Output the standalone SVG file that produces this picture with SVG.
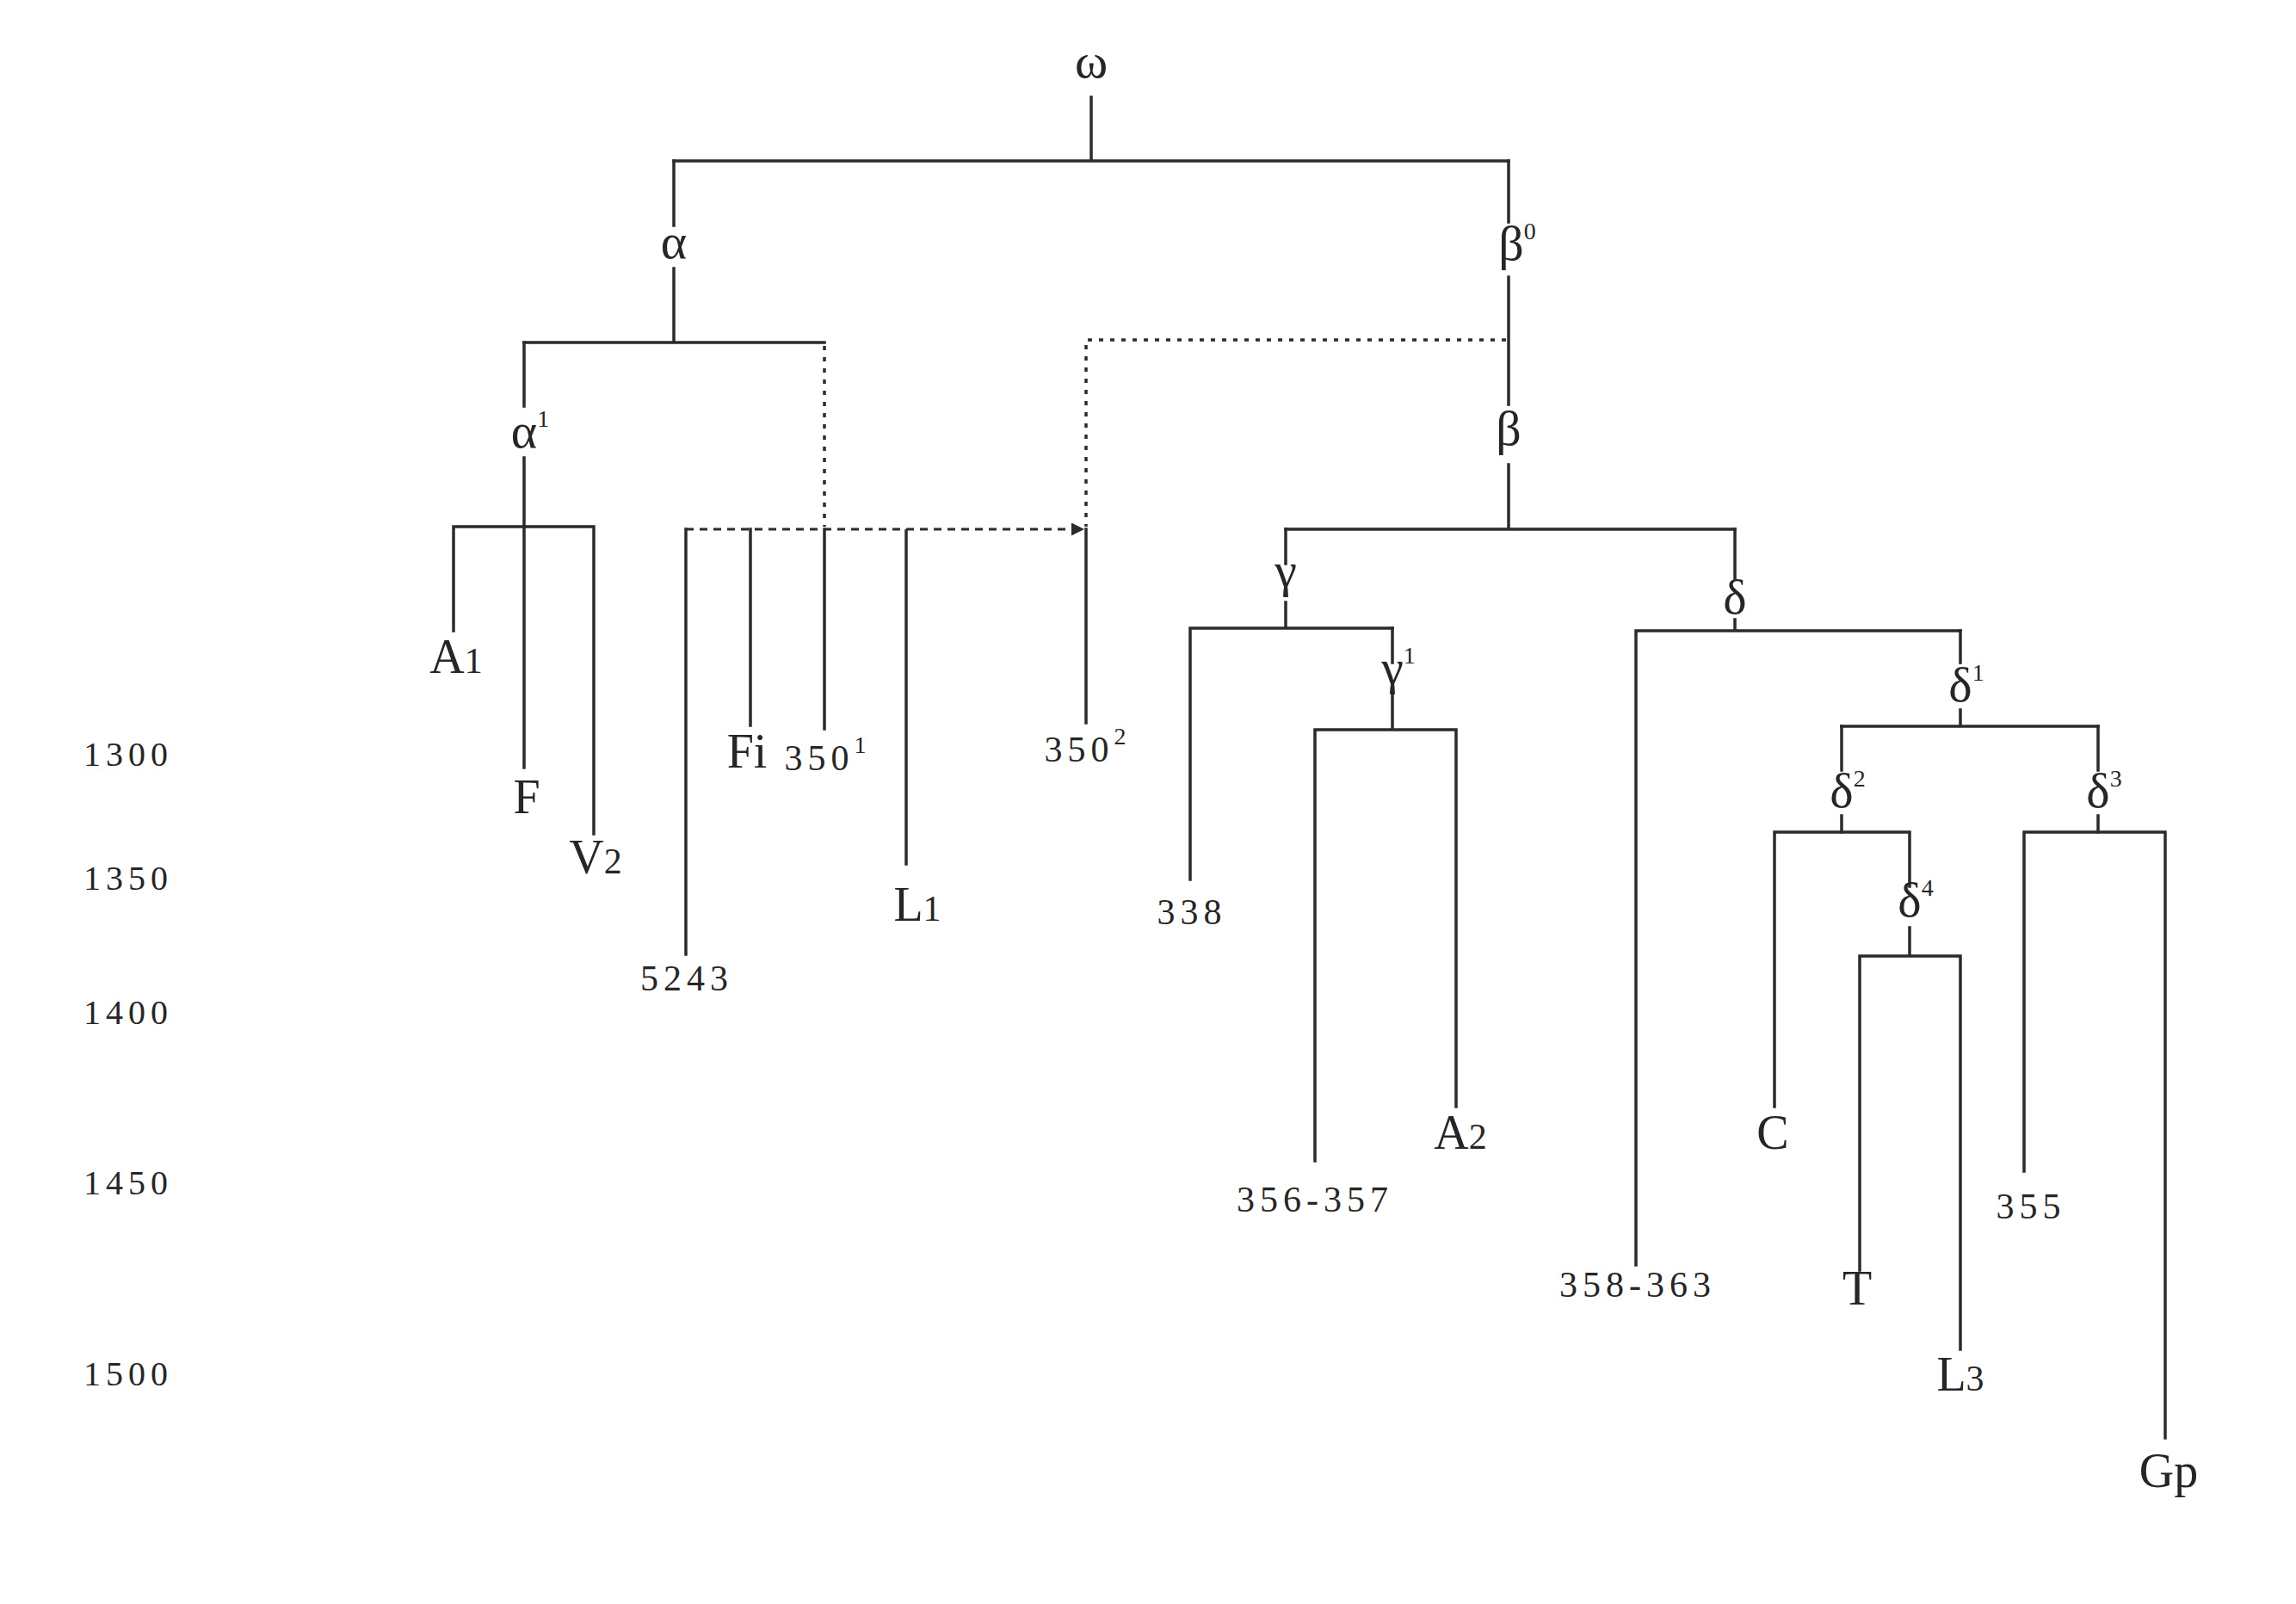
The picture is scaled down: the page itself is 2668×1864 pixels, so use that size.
<svg xmlns="http://www.w3.org/2000/svg" width="2668" height="1864" viewBox="0 0 2668 1864">
<defs>
<style>
.ln{fill:none;stroke:#2b2b2b;stroke-width:3.5;stroke-linecap:square}
.dot{fill:none;stroke:#2b2b2b;stroke-width:3.5;stroke-dasharray:5 8}
.dash{fill:none;stroke:#2b2b2b;stroke-width:3;stroke-dasharray:9 7}
text{font-family:"Liberation Serif","DejaVu Serif",serif;fill:#262626;text-anchor:middle}
.g{font-size:58px}
.l{font-size:56px}
.n{font-size:42px;letter-spacing:6px}
.y{font-size:40px;letter-spacing:6px}
.sup{font-size:28px}
.sub{font-size:42px}
</style>
<marker id="arr" viewBox="0 0 10 10" refX="10" refY="5" markerWidth="5" markerHeight="5" orient="auto" markerUnits="strokeWidth">
<path d="M0,0 L10,5 L0,10 z" fill="#2b2b2b"/>
</marker>
</defs>
<rect width="2668" height="1864" fill="#ffffff"/>

<g id="connectors">
<path class="ln" d="M1268,113 V187 M783,187 H1753"/>
<path class="ln" d="M783,187 V262 M783,312 V398 M609,398 H958"/>
<path class="ln" d="M1753,187 V258 M1753,322 V470 M1753,540 V615 M1494,615 H2016"/>
<path class="ln" d="M609,398 V472 M609,532 V892 M527,612 H690 M527,612 V733 M690,612 V969"/>
<path class="ln" d="M797,615 V1109 M872,615 V843 M958,615 V847 M1053,617 V1004 M1262,615 V840"/>
<path class="ln" d="M1494,615 V655 M1494,700 V730 M1383,730 H1618 M1383,730 V1022"/>
<path class="ln" d="M1618,730 V770 M1618,808 V848 M1528,848 H1692 M1528,848 V1349 M1692,848 V1286"/>
<path class="ln" d="M2016,615 V672 M2016,720 V733 M1901,733 H2278 M1901,733 V1470"/>
<path class="ln" d="M2278,733 V770 M2278,825 V844 M2140,844 H2438"/>
<path class="ln" d="M2140,844 V895 M2140,948 V967 M2438,844 V895 M2438,948 V967"/>
<path class="ln" d="M2062,967 H2219 M2062,967 V1286 M2219,967 V1030 M2219,1078 V1111 M2161,1111 H2278 M2161,1111 V1476 M2278,1111 V1568"/>
<path class="ln" d="M2352,967 H2516 M2352,967 V1361 M2516,967 V1671"/>
<path class="dot" d="M958,402 V612"/>
<path class="dash" d="M797,615 H1260" marker-end="url(#arr)"/>
<path class="dot" d="M1750,395 H1262 V612"/>
</g>

<g id="node-omega"><text class="g" x="1268" y="90">ω</text></g>
<g id="node-alpha"><text class="g" x="783" y="300">α</text></g>
<g id="node-beta0"><text class="g" x="1763" y="302">β<tspan class="sup" dy="-24">0</tspan></text></g>
<g id="node-alpha1"><text class="g" x="616" y="520">α<tspan class="sup" dy="-24">1</tspan></text></g>
<g id="node-beta"><text class="g" x="1753" y="517">β</text></g>
<g id="node-gamma"><text class="g" x="1494" y="682">γ</text></g>
<g id="node-delta"><text class="g" x="2016" y="713">δ</text></g>
<g id="node-gamma1"><text class="g" x="1625" y="795">γ<tspan class="sup" dy="-24">1</tspan></text></g>
<g id="node-delta1"><text class="g" x="2285" y="815">δ<tspan class="sup" dy="-24">1</tspan></text></g>
<g id="node-delta2"><text class="g" x="2147" y="938">δ<tspan class="sup" dy="-24">2</tspan></text></g>
<g id="node-delta3"><text class="g" x="2445" y="938">δ<tspan class="sup" dy="-24">3</tspan></text></g>
<g id="node-delta4"><text class="g" x="2226" y="1065">δ<tspan class="sup" dy="-24">4</tspan></text></g>

<g id="leaf-A1"><text class="l" x="530" y="782">A<tspan class="sub">1</tspan></text></g>
<g id="leaf-F"><text class="l" x="612" y="945">F</text></g>
<g id="leaf-V2"><text class="l" x="692" y="1015">V<tspan class="sub">2</tspan></text></g>
<g id="leaf-5243"><text class="n" x="798" y="1151">5243</text></g>
<g id="leaf-Fi"><text class="l" x="868" y="892">Fi</text></g>
<g id="leaf-350-1"><text class="n" x="962" y="895">350<tspan class="sup" dy="-20">1</tspan></text></g>
<g id="leaf-L1"><text class="l" x="1066" y="1070">L<tspan class="sub">1</tspan></text></g>
<g id="leaf-350-2"><text class="n" x="1264" y="885">350<tspan class="sup" dy="-20">2</tspan></text></g>
<g id="leaf-338"><text class="n" x="1385" y="1074">338</text></g>
<g id="leaf-356-357"><text class="n" x="1528" y="1408">356-357</text></g>
<g id="leaf-A2"><text class="l" x="1697" y="1335">A<tspan class="sub">2</tspan></text></g>
<g id="leaf-358-363"><text class="n" x="1903" y="1507">358-363</text></g>
<g id="leaf-C"><text class="l" x="2060" y="1335">C</text></g>
<g id="leaf-T"><text class="l" x="2158" y="1516">T</text></g>
<g id="leaf-L3"><text class="l" x="2278" y="1616">L<tspan class="sub">3</tspan></text></g>
<g id="leaf-355"><text class="n" x="2360" y="1416">355</text></g>
<g id="leaf-Gp"><text class="l" x="2520" y="1728">Gp</text></g>

<g id="timeline">
<text class="y" x="149" y="890">1300</text>
<text class="y" x="149" y="1034">1350</text>
<text class="y" x="149" y="1190">1400</text>
<text class="y" x="149" y="1388">1450</text>
<text class="y" x="149" y="1610">1500</text>
</g>
</svg>
